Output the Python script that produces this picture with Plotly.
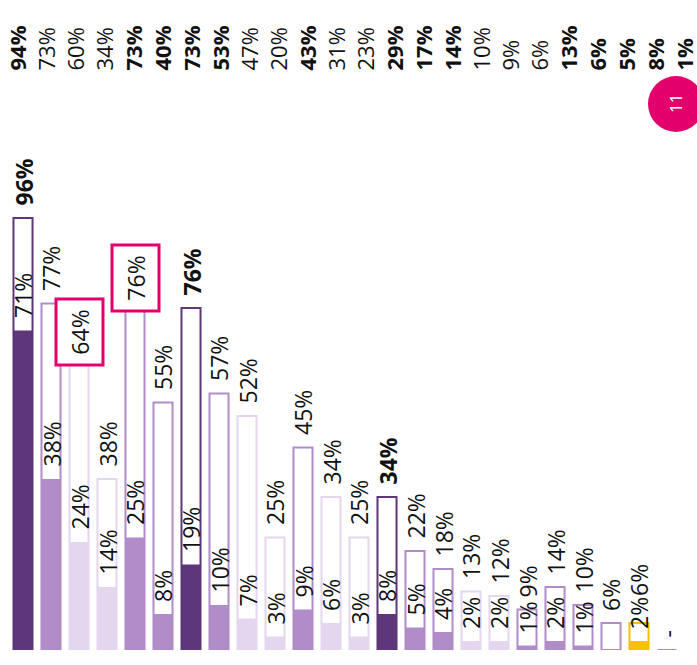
import plotly.graph_objects as go

# ---- data ----
outer_vals = [96, 77, 64, 38, 76, 55, 76, 57, 52, 25, 45, 34, 25, 34, 22, 18, 13, 12, 9, 14, 10, 6, 6, 0]
inner_vals = [71, 38, 24, 14, 25, 8, 19, 10, 7, 3, 9, 6, 3, 8, 5, 4, 2, 2, 1, 2, 1, None, 2, None]
outer_labels = ["96%", "77%", "64%", "38%", "76%", "55%", "76%", "57%", "52%", "25%", "45%", "34%",
                "25%", "34%", "22%", "18%", "13%", "12%", "9%", "14%", "10%", "6%", "6%", "-"]
inner_labels = ["71%", "38%", "24%", "14%", "25%", "8%", "19%", "10%", "7%", "3%", "9%", "6%",
                "3%", "8%", "5%", "4%", "2%", "2%", "1%", "2%", "1%", None, "2%", None]
top_labels = ["94%", "73%", "60%", "34%", "73%", "40%", "73%", "53%", "47%", "20%", "43%", "31%",
              "23%", "29%", "17%", "14%", "10%", "9%", "6%", "13%", "6%", "5%", "8%", "1%"]
top_bold = [1, 0, 0, 0, 1, 1, 1, 1, 0, 0, 1, 0, 0, 1, 1, 1, 0, 0, 0, 1, 1, 1, 1, 1]
shade = ["d", "m", "l", "l", "m", "m", "d", "m", "l", "l", "m", "l",
         "l", "d", "m", "m", "l", "l", "m", "m", "m", "m", "y", "m"]
highlight = [2, 4]
badge_text = "11"

# ---- styles ----
COL = {"d": "#5d3779", "m": "#b08cc8", "l": "#e4d6ee", "y": "#f9c000"}
PINK = "#e3006c"
TXT = "#111111"
FONT = "Open Sans"
BAR_FS = 23
TOP_FS = 22
GAP = 10

n = len(outer_vals)
xs = list(range(n))

fig = go.Figure()

# outline bars (total)
for i in xs:
    if outer_vals[i] > 0:
        fig.add_trace(go.Bar(
            x=[i], y=[outer_vals[i]], marker=dict(color="white", line=dict(color=COL[shade[i]], width=2)),
            width=0.68, cliponaxis=False, hoverinfo="skip", showlegend=False))
    else:
        fig.add_trace(go.Scatter(
            x=[i - 0.34, i + 0.34], y=[outer_vals[i], outer_vals[i]], mode="lines",
            line=dict(color=COL[shade[i]], width=2), cliponaxis=False, hoverinfo="skip", showlegend=False))

# filled bars (inner value)
for i in xs:
    if inner_vals[i] is not None:
        fig.add_trace(go.Bar(
            x=[i], y=[inner_vals[i]], marker=dict(color=COL[shade[i]], line=dict(color=COL[shade[i]], width=0)),
            width=0.68, cliponaxis=False, hoverinfo="skip", showlegend=False))

# dummy trace for the top-row axis
fig.add_trace(go.Scatter(x=xs, y=[None] * n, xaxis="x2", yaxis="y", showlegend=False, hoverinfo="skip"))

ann = []
PX_PER_UNIT = 4.5
for i in xs:
    # inner label
    if inner_labels[i] is not None:
        ann.append(dict(x=i, y=inner_vals[i], xref="x", yref="y", text=inner_labels[i], textangle=-90,
                        showarrow=False, xanchor="center", yanchor="bottom", yshift=GAP,
                        font=dict(family=FONT, size=BAR_FS, color=TXT)))
    # outer label
    lab = outer_labels[i]
    txt = "<b>%s</b>" % lab if shade[i] == "d" else lab
    base = outer_vals[i]
    if inner_vals[i] is not None:
        inner_len = (len(inner_labels[i]) * 16.5) / PX_PER_UNIT
        base = max(base, inner_vals[i] + inner_len)
    if i in highlight:
        ann.append(dict(x=i, y=base, xref="x", yref="y", text=txt, textangle=-90, showarrow=False,
                        xanchor="center", yanchor="bottom", yshift=-5, width=59, height=40,
                        borderpad=2, borderwidth=3, bordercolor=PINK, bgcolor="white",
                        font=dict(family=FONT, size=BAR_FS, color=TXT)))
    else:
        ann.append(dict(x=i, y=base, xref="x", yref="y", text=txt, textangle=-90, showarrow=False,
                        xanchor="center", yanchor="bottom", yshift=GAP,
                        font=dict(family=FONT, size=BAR_FS, color=TXT)))
    # top row
    t = "<b>%s</b>" % top_labels[i] if top_bold[i] else top_labels[i]
    ann.append(dict(x=i, y=(650 - 73) / 450, xref="x2", yref="paper", text=t, textangle=-90,
                    showarrow=False, xanchor="center", yanchor="bottom",
                    font=dict(family=FONT, size=TOP_FS, color=TXT)))

# badge
cx, cy, r = 676, 104, 28
ann.append(dict(x=cx / 697, y=(650 - cy) / 450, xref="paper", yref="paper", text=badge_text, textangle=-90,
                showarrow=False, xanchor="center", yanchor="middle",
                font=dict(family=FONT, size=17, color="white")))
shapes = [dict(type="circle", xref="paper", yref="paper", x0=(cx - r) / 697, x1=(cx + r) / 697,
               y0=(650 - cy - r) / 450, y1=(650 - cy + r) / 450, fillcolor=PINK, line=dict(width=0),
               layer="below")]

fig.update_layout(
    width=697, height=665,
    margin=dict(l=0, r=0, t=200, b=15),
    paper_bgcolor="white", plot_bgcolor="rgba(0,0,0,0)",
    barmode="overlay",
    showlegend=False,
    xaxis=dict(domain=[9 / 697, 681 / 697], range=[-0.5, 23.5], visible=False, fixedrange=True),
    xaxis2=dict(domain=[0, 1], range=[-16 / 29, -16 / 29 + 697 / 29], visible=False, anchor="y",
                fixedrange=True),
    yaxis=dict(range=[0, 100], visible=False, fixedrange=True),
    annotations=ann,
    shapes=shapes,
)

fig.write_html("out.html", config={"displayModeBar": False},
               post_script="document.body.style.margin='0';")
